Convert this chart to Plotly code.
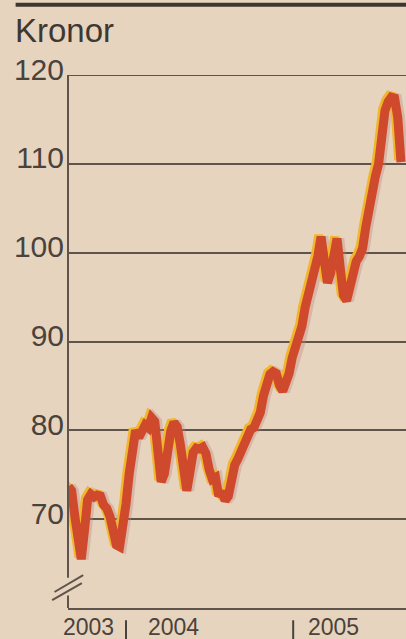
import pandas as pd
import plotly.graph_objects as go

# Weekly share price (kronor), late Aug 2003 - late Aug 2005
start_date = "2003-08-28"
price = [
    73.7, 73.2, 70.3, 67.3, 65.5, 68.7, 72.2, 72.8, 72.5, 72.7,
    72.6, 71.6, 71.2, 70.3, 68.4, 67.1, 66.9, 69.0, 71.7, 75.1,
    78.5, 80.0, 79.2, 79.7, 80.6, 80.3, 81.4, 81.0, 77.5, 74.2,
    75.1, 78.0, 79.9, 80.9, 80.4, 78.4, 75.4, 73.2, 75.3, 77.5,
    78.0, 77.9, 78.1, 77.4, 75.6, 74.5, 74.7, 72.6, 73.1, 72.1,
    72.6, 74.6, 76.1, 76.8, 77.6, 78.7, 79.3, 80.1, 80.3, 81.0,
    82.0, 83.9, 85.5, 86.3, 86.6, 86.4, 85.1, 84.4, 85.4, 86.4,
    88.2, 89.2, 90.1, 91.7, 93.8, 95.1, 96.3, 97.5, 99.6, 101.8,
    98.6, 96.6, 97.7, 100.4, 101.6, 98.3, 95.2, 94.6, 96.5, 98.3,
    99.0, 99.6, 100.5, 102.9, 105.2, 107.4, 108.6, 110.0, 114.0, 116.0,
    117.0, 117.5, 117.4, 115.2, 110.2,
]
dates = pd.date_range(start_date, periods=len(price), freq="7D")

y_ticks = [70, 80, 90, 100, 110, 120]
year_labels = ["2003", "2004", "2005"]
year_bounds = ["2004-01-01", "2005-01-01"]

BG = "#e7d4bf"
INK = "#4a423b"
GRID = "#5e544b"
RED = "#cf4a2c"
YELLOW = "#f2b62c"
FONT = "Liberation Sans, Arial, sans-serif"

fig = go.Figure()

# faint halo on the right side
fig.add_trace(go.Scatter(
    x=dates + pd.Timedelta(days=5), y=price, mode="lines",
    line=dict(color="rgba(190,130,125,0.35)", width=10),
    hoverinfo="skip", showlegend=False))
# yellow highlight on the left side
fig.add_trace(go.Scatter(
    x=dates - pd.Timedelta(days=5), y=[v + 0.2 for v in price], mode="lines",
    line=dict(color=YELLOW, width=9),
    hoverinfo="skip", showlegend=False))
# main red line
fig.add_trace(go.Scatter(
    x=dates, y=price, mode="lines",
    line=dict(color=RED, width=9),
    showlegend=False, name="Kronor"))

shapes = []
# top rule
shapes.append(dict(type="line", xref="paper", yref="paper",
                   x0=-0.155, x1=1.05, y0=1.132, y1=1.132,
                   line=dict(color="#3e3630", width=4)))
# top gridline (at the range edge)
shapes.append(dict(type="line", xref="paper", yref="y", x0=0, x1=1,
                   y0=120, y1=120, line=dict(color=GRID, width=2)))
# y axis line with a break near the bottom
shapes.append(dict(type="line", xref="paper", yref="y", x0=0, x1=0,
                   y0=63.4, y1=120, line=dict(color=GRID, width=2)))
shapes.append(dict(type="line", xref="paper", yref="y", x0=0, x1=0,
                   y0=60, y1=61.4, line=dict(color=GRID, width=2)))
shapes.append(dict(type="line", xref="paper", yref="y", x0=-0.047, x1=0.041,
                   y0=60.9, y1=62.8, line=dict(color=GRID, width=2)))
shapes.append(dict(type="line", xref="paper", yref="y", x0=-0.040, x1=0.045,
                   y0=61.8, y1=63.7, line=dict(color=GRID, width=2)))
# year boundary marks below the axis
for b in year_bounds:
    shapes.append(dict(type="line", xref="x", yref="paper", x0=b, x1=b,
                       y0=-0.023, y1=-0.06, line=dict(color=INK, width=2)))

annotations = [
    dict(text="Kronor", xref="paper", yref="paper", x=-0.163, y=1.083,
         xanchor="left", yanchor="middle", showarrow=False,
         font=dict(family=FONT, size=33, color="#3e3833")),
    dict(text=year_labels[0], xref="x", yref="paper", x=year_bounds[0], y=-0.036,
         xanchor="right", yanchor="middle", xshift=-10, showarrow=False,
         font=dict(family=FONT, size=23, color=INK)),
    dict(text=year_labels[1], xref="x", yref="paper", x=year_bounds[0], y=-0.036,
         xanchor="left", yanchor="middle", xshift=20, showarrow=False,
         font=dict(family=FONT, size=23, color=INK)),
    dict(text=year_labels[2], xref="x", yref="paper", x=year_bounds[1], y=-0.036,
         xanchor="left", yanchor="middle", xshift=13, showarrow=False,
         font=dict(family=FONT, size=23, color=INK)),
]

fig.update_layout(
    width=406, height=639,
    margin=dict(l=68, r=0, t=75, b=31),
    paper_bgcolor=BG, plot_bgcolor=BG,
    shapes=shapes, annotations=annotations,
    xaxis=dict(range=["2003-08-27", "2005-09-05"], showgrid=False,
               showline=True, linecolor=GRID, linewidth=2,
               showticklabels=False, ticks="", zeroline=False, fixedrange=True),
    yaxis=dict(range=[60, 120], tickvals=y_ticks, showgrid=True,
               gridcolor=GRID, gridwidth=2, showline=False, zeroline=False,
               ticks="", ticklabelstandoff=3, ticklabelshift=-6,
               tickfont=dict(family=FONT, size=30, color=INK), fixedrange=True),
)

fig.write_html(
    "out.html",
    config={"displayModeBar": False},
    post_script="document.body.style.margin='0';document.body.style.overflow='hidden';",
)
